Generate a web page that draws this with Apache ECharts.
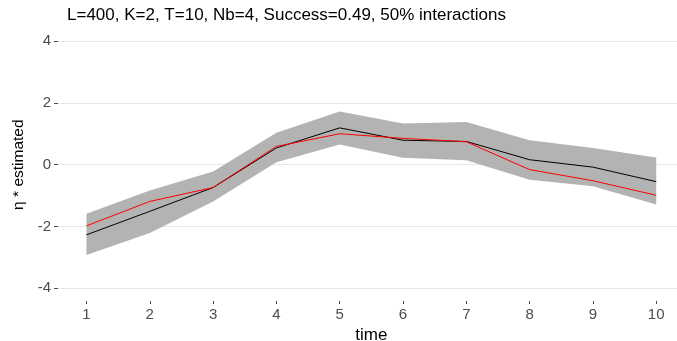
<!DOCTYPE html>
<html>
<head>
<meta charset="utf-8">
<script src="https://cdn.jsdelivr.net/npm/echarts@6/dist/echarts.min.js"></script>
<style>html,body{margin:0;padding:0;background:#fff;overflow:hidden}#c{width:677px;height:341px}</style>
</head>
<body>
<div id="c"></div>
<script>
const times = [1, 2, 3, 4, 5, 6, 7, 8, 9, 10];
const blackLine = [-2.27, -1.51, -0.74, 0.54, 1.19, 0.79, 0.75, 0.16, -0.08, -0.55];
const redLine = [-1.98, -1.19, -0.74, 0.59, 1.00, 0.85, 0.74, -0.16, -0.52, -0.99];
const bandUpper = [-1.59, -0.84, -0.22, 1.03, 1.72, 1.33, 1.38, 0.79, 0.54, 0.23];
const bandLower = [-2.92, -2.21, -1.19, 0.08, 0.65, 0.22, 0.14, -0.49, -0.70, -1.29];
const yTicks = [-4, -2, 0, 2, 4];
const titleText = 'L=400, K=2, T=10, Nb=4, Success=0.49, 50% interactions';

const font = '"Liberation Sans", Arial, sans-serif';
const chart = echarts.init(document.getElementById('c'), null, {renderer: 'canvas'});
chart.setOption({
  animation: false,
  backgroundColor: '#fff',
  title: {
    text: titleText, left: 62, top: 2,
    textStyle: {fontFamily: font, fontSize: 17, fontWeight: 'normal', color: '#000'}
  },
  grid: {left: 58, width: 626.7, top: 41, height: 247.3, outerBoundsMode: 'none', containLabel: false},
  xAxis: {
    type: 'value', min: 0.55, max: 10.45,
    offset: 12.7,
    name: 'time', nameLocation: 'middle', nameGap: 16,
    nameTextStyle: {fontFamily: font, fontSize: 17, color: '#000'},
    axisLine: {show: false, onZero: false},
    axisTick: {show: true, length: 3, lineStyle: {color: '#4d4d4d'}, customValues: times},
    axisLabel: {fontFamily: font, fontSize: 15, color: '#4d4d4d', margin: 6, customValues: times},
    splitLine: {show: false}
  },
  yAxis: {
    type: 'value', min: yTicks[0], max: yTicks[yTicks.length - 1], interval: 2,
    name: 'η * estimated', nameLocation: 'middle', nameGap: 26, nameRotate: 90,
    nameTextStyle: {fontFamily: font, fontSize: 15.5, color: '#000'},
    axisLine: {show: false, onZero: false},
    axisTick: {show: true, length: 4, lineStyle: {color: '#4d4d4d'}},
    axisLabel: {fontFamily: font, fontSize: 15, color: '#4d4d4d', margin: 7},
    splitLine: {show: true, lineStyle: {color: '#e6e6e6', width: 1}}
  },
  series: [
    {
      type: 'custom', silent: true,
      data: times.map((t, i) => [t, bandLower[i], bandUpper[i]]),
      encode: {x: 0, y: [1, 2]},
      renderItem: function (params, api) {
        if (params.dataIndex !== 0) return null;
        const up = [], lo = [];
        for (let i = 0; i < times.length; i++) {
          up.push(api.coord([times[i], bandUpper[i]]));
          lo.push(api.coord([times[i], bandLower[i]]));
        }
        return {
          type: 'polygon',
          shape: {points: up.concat(lo.reverse())},
          style: {fill: '#b3b3b3', stroke: null}
        };
      }
    },
    {
      type: 'line', symbol: 'none',
      data: times.map((t, i) => [t, blackLine[i]]),
      lineStyle: {color: '#000', width: 1}
    },
    {
      type: 'line', symbol: 'none',
      data: times.map((t, i) => [t, redLine[i]]),
      lineStyle: {color: '#ff0000', width: 1}
    }
  ]
});
</script>
</body>
</html>
